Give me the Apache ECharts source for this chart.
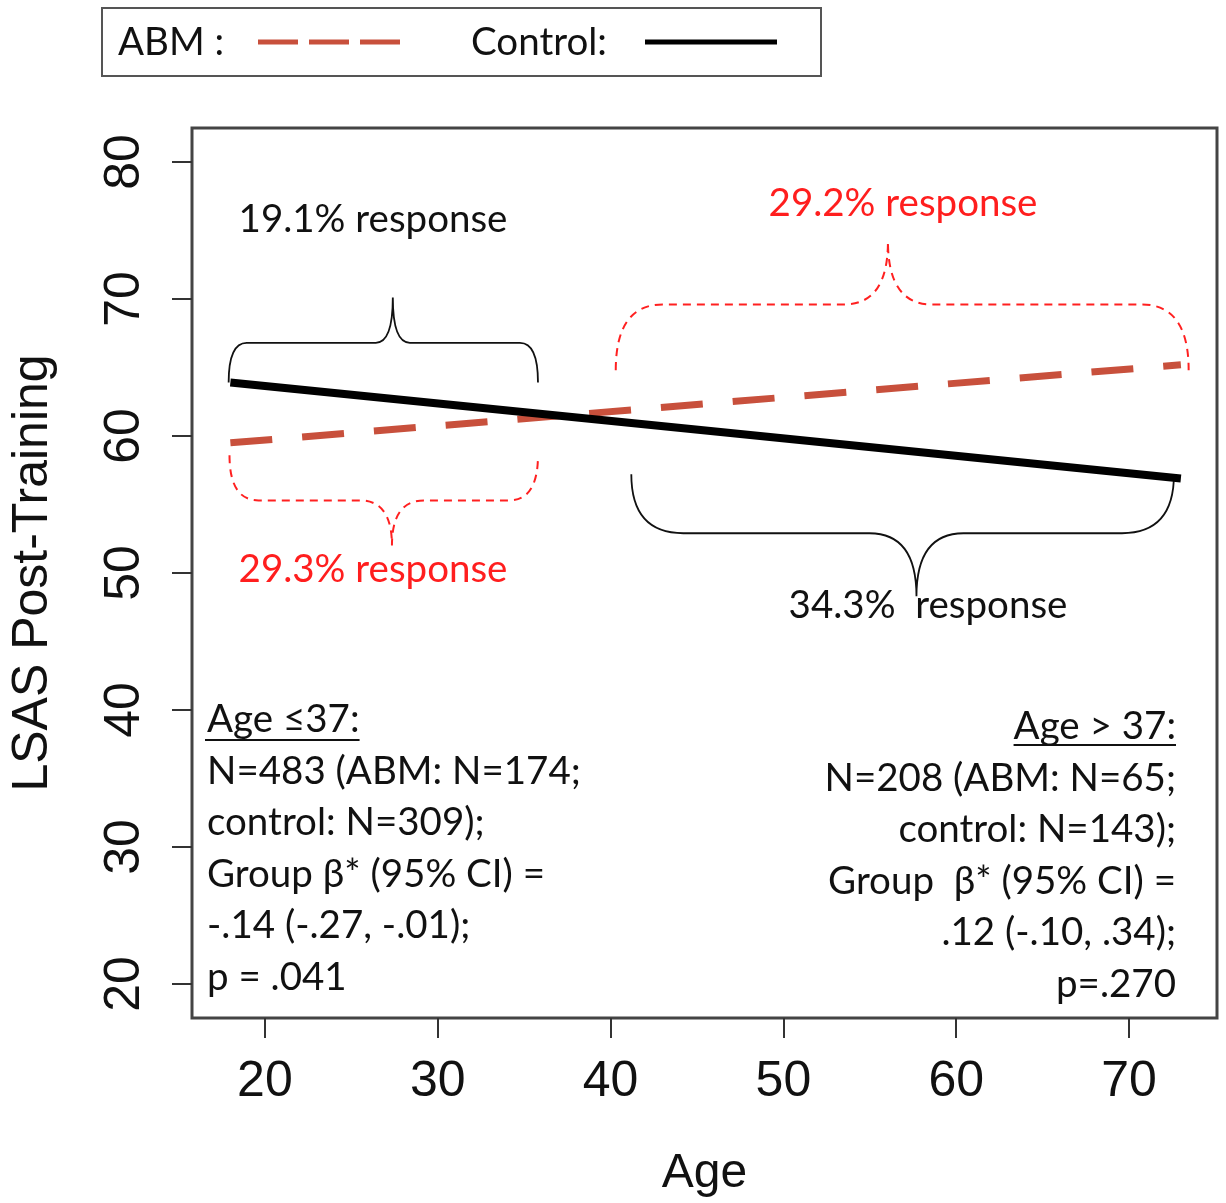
<!DOCTYPE html>
<html>
<head>
<meta charset="utf-8">
<script src="https://cdn.jsdelivr.net/npm/echarts@6/dist/echarts.min.js"></script>
<style>
  html, body { margin: 0; padding: 0; background: #fff; }
  #chart { width: 1226px; height: 1203px; }
</style>
</head>
<body>
<div id="chart"></div>
<script>
// ---------------- data ----------------
const seriesNames = ['ABM', 'Control'];
const ages = [18, 73];
const abmLSAS = [59.5, 65.2];
const controlLSAS = [63.9, 56.9];
const xTicks = [20, 30, 40, 50, 60, 70];
const yTicks = [20, 30, 40, 50, 60, 70, 80];

// braces (data space): left x, right x, tip x, end y, flat y, tip y
const braceGroup = ['Control', 'ABM', 'ABM', 'Control'];
const braceX1   = [17.9, 17.95, 40.3, 41.2];
const braceX2   = [35.8, 35.8, 73.45, 72.6];
const braceMid  = [27.4, 27.35, 56.05, 57.7];
const braceEnd  = [63.9, 58.6, 64.8, 57.2];
const braceFlat = [66.8, 55.3, 69.6, 52.9];
const braceTip  = [70.1, 52.0, 74.2, 48.3];

const responseLabels = ['19.1% response', '29.3% response', '29.2% response', '34.3%  response'];
const leftStats = ['Age \u226437:', 'N=483 (ABM: N=174;', 'control: N=309);', 'Group \u03b2* (95% CI) =', '-.14 (-.27, -.01);', 'p = .041'];
const rightStats = ['Age > 37:', 'N=208 (ABM: N=65;', 'control: N=143);', 'Group  \u03b2* (95% CI) =', '.12 (-.10, .34);', 'p=.270'];

// ---------------- styles ----------------
const ABM_COLOR = '#c8503c';
const CTRL_COLOR = '#000000';
const RED_TEXT = '#ff1e1e';
const DARK_TEXT = '#111111';
const AXIS_FONT = "'Liberation Sans', Arial, sans-serif";
const NOTE_FONT = "Lato, 'Open Sans', sans-serif";
const NOTE_SIZE = 38.5;
const braceStyles = [
  { corner: 18, tip: 17, stroke: '#111', width: 1.8, dash: null },
  { corner: 29, tip: 32, stroke: '#ff2020', width: 2, dash: [8, 6] },
  { corner: 47, tip: 44, stroke: '#ff2020', width: 2, dash: [8, 6] },
  { corner: 52, tip: 47, stroke: '#111', width: 1.8, dash: null }
];
// response label placement (pixels)
const labelPos = [[373, 220, DARK_TEXT], [373, 570, RED_TEXT], [903, 204, RED_TEXT], [928, 606, DARK_TEXT]];

const braceData = braceX1.map((x1, i) => [x1, braceX2[i], braceMid[i], braceEnd[i], braceFlat[i], braceTip[i], i]);

function measure(text) {
  const c = document.createElement('canvas').getContext('2d');
  c.font = NOTE_SIZE + 'px ' + NOTE_FONT;
  return c.measureText(text).width;
}

const chart = echarts.init(document.getElementById('chart'), null, { renderer: 'canvas' });

const graphics = [];
// legend box
graphics.push({ type: 'rect', shape: { x: 102, y: 8, width: 719, height: 68 }, style: { fill: '#fff', stroke: '#555', lineWidth: 2 }, z: 10 });
graphics.push({ type: 'text', style: { text: seriesNames[0] + ' :', x: 118, y: 43, fill: DARK_TEXT, font: NOTE_SIZE + 'px ' + NOTE_FONT, verticalAlign: 'middle' }, z: 11 });
graphics.push({ type: 'line', shape: { x1: 258, y1: 42, x2: 400, y2: 42 }, style: { stroke: ABM_COLOR, lineWidth: 5, lineDash: [40, 11] }, z: 11 });
graphics.push({ type: 'text', style: { text: seriesNames[1] + ':', x: 471, y: 43, fill: DARK_TEXT, font: NOTE_SIZE + 'px ' + NOTE_FONT, verticalAlign: 'middle' }, z: 11 });
graphics.push({ type: 'line', shape: { x1: 645, y1: 42, x2: 777, y2: 42 }, style: { stroke: CTRL_COLOR, lineWidth: 5 }, z: 11 });

// response labels
responseLabels.forEach((t, i) => {
  graphics.push({ type: 'text', style: { text: t, x: labelPos[i][0], y: labelPos[i][1], fill: labelPos[i][2], font: NOTE_SIZE + 'px ' + NOTE_FONT, align: 'center', verticalAlign: 'middle' }, z: 12 });
});

// stats blocks
const LH = 51.5;
graphics.push({ type: 'text', style: { text: leftStats.join('\n'), x: 207, y: 720 - LH / 2, lineHeight: LH, fill: DARK_TEXT, font: NOTE_SIZE + 'px ' + NOTE_FONT, align: 'left', verticalAlign: 'top' }, z: 12 });
const lw = measure(leftStats[0]);
graphics.push({ type: 'line', shape: { x1: 205, y1: 740, x2: 207 + lw, y2: 740 }, style: { stroke: DARK_TEXT, lineWidth: 2 }, z: 12 });
graphics.push({ type: 'text', style: { text: rightStats.join('\n'), x: 1176, y: 727 - LH / 2, lineHeight: LH, fill: DARK_TEXT, font: NOTE_SIZE + 'px ' + NOTE_FONT, align: 'right', verticalAlign: 'top' }, z: 12 });
const rw = measure(rightStats[0]);
graphics.push({ type: 'line', shape: { x1: 1176 - rw, y1: 745, x2: 1176, y2: 745 }, style: { stroke: DARK_TEXT, lineWidth: 2 }, z: 12 });

const option = {
  backgroundColor: '#fff',
  animation: false,
  grid: { left: 192, top: 128, width: 1025, height: 890, show: true, borderColor: '#444', borderWidth: 3, containLabel: false, outerBoundsMode: 'none' },
  xAxis: {
    type: 'value', min: 15.78, max: 75.09,
    axisLine: { show: false },
    splitLine: { show: false },
    axisTick: { show: true, length: 20, lineStyle: { color: '#333', width: 2 }, customValues: xTicks },
    axisLabel: { customValues: xTicks, fontSize: 50, fontFamily: AXIS_FONT, color: DARK_TEXT, margin: 39 },
    name: 'Age', nameLocation: 'middle', nameGap: 132,
    nameTextStyle: { fontSize: 48, fontFamily: AXIS_FONT, color: DARK_TEXT }
  },
  yAxis: {
    type: 'value', min: 17.52, max: 82.48,
    axisLine: { show: false },
    splitLine: { show: false },
    axisTick: { show: true, length: 20, lineStyle: { color: '#333', width: 2 }, customValues: yTicks },
    axisLabel: { customValues: yTicks, rotate: 90, fontSize: 50, fontFamily: AXIS_FONT, color: DARK_TEXT, margin: 42 },
    name: 'LSAS Post-Training', nameLocation: 'middle', nameGap: 134, nameRotate: 90,
    nameTextStyle: { fontSize: 50, fontFamily: AXIS_FONT, color: DARK_TEXT }
  },
  series: [
    {
      type: 'custom', name: 'braces', z: 3,
      data: braceData,
      encode: { x: [0, 1, 2], y: [3, 4, 5] },
      renderItem: function (params, api) {
        const i = api.value(6);
        const st = braceStyles[i];
        const pL = api.coord([api.value(0), api.value(3)]);
        const pR = api.coord([api.value(1), api.value(3)]);
        const fy = api.coord([api.value(0), api.value(4)])[1];
        const tip = api.coord([api.value(2), api.value(5)]);
        const c = st.corner, t = st.tip;
        const d = 'M' + pL[0] + ' ' + pL[1] +
          ' Q' + pL[0] + ' ' + fy + ' ' + (pL[0] + c) + ' ' + fy +
          ' L' + (tip[0] - t) + ' ' + fy +
          ' Q' + tip[0] + ' ' + fy + ' ' + tip[0] + ' ' + tip[1] +
          ' Q' + tip[0] + ' ' + fy + ' ' + (tip[0] + t) + ' ' + fy +
          ' L' + (pR[0] - c) + ' ' + fy +
          ' Q' + pR[0] + ' ' + fy + ' ' + pR[0] + ' ' + pR[1];
        return {
          type: 'path',
          shape: { pathData: d },
          style: { fill: 'none', stroke: st.stroke, lineWidth: st.width, lineDash: st.dash }
        };
      },
      silent: true
    },
    {
      type: 'line', name: seriesNames[0], z: 4,
      data: ages.map((a, i) => [a, abmLSAS[i]]),
      symbol: 'none',
      lineStyle: { color: ABM_COLOR, width: 7, type: [42, 30], cap: 'butt' }
    },
    {
      type: 'line', name: seriesNames[1], z: 5,
      data: ages.map((a, i) => [a, controlLSAS[i]]),
      symbol: 'none',
      lineStyle: { color: CTRL_COLOR, width: 8 }
    }
  ],
  graphic: graphics
};
chart.setOption(option);
</script>
</body>
</html>
